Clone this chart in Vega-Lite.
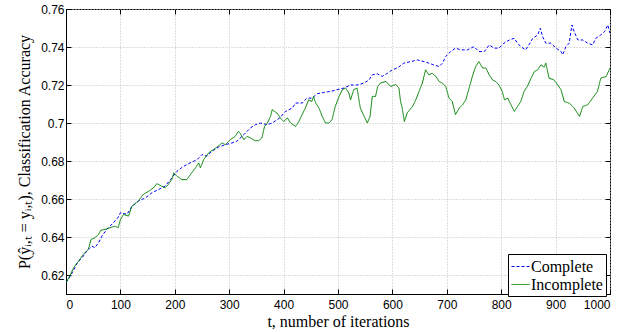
{
  "$schema": "https://vega.github.io/schema/vega-lite/v6.json",
  "width": 544,
  "height": 285,
  "autosize": {"type": "none"},
  "padding": {"left": 66, "top": 9, "right": 34, "bottom": 38},
  "background": "white",
  "config": {
    "view": {"stroke": "black", "strokeWidth": 1},
    "axis": {
      "labelFont": "Liberation Sans",
      "labelFontSize": 12,
      "labelColor": "black",
      "titleFont": "Liberation Serif",
      "titleFontSize": 16,
      "titleFontWeight": "normal",
      "titleColor": "black",
      "domainColor": "black",
      "tickColor": "black",
      "tickSize": -5,
      "gridColor": "#bdbdbd",
      "gridDash": [1, 2],
      "gridWidth": 1
    },
    "legend": {
      "labelFont": "Liberation Serif"
    }
  },
  "datasets": {
    "acc": [
      {"t": 0, "acc": 0.616, "series": "Complete"},
      {"t": 5, "acc": 0.618, "series": "Complete"},
      {"t": 13, "acc": 0.622, "series": "Complete"},
      {"t": 20, "acc": 0.626, "series": "Complete"},
      {"t": 26, "acc": 0.628, "series": "Complete"},
      {"t": 32, "acc": 0.630, "series": "Complete"},
      {"t": 38, "acc": 0.6326, "series": "Complete"},
      {"t": 47, "acc": 0.6352, "series": "Complete"},
      {"t": 53, "acc": 0.6344, "series": "Complete"},
      {"t": 60, "acc": 0.637, "series": "Complete"},
      {"t": 66, "acc": 0.6405, "series": "Complete"},
      {"t": 75, "acc": 0.644, "series": "Complete"},
      {"t": 87, "acc": 0.6475, "series": "Complete"},
      {"t": 95, "acc": 0.650, "series": "Complete"},
      {"t": 100, "acc": 0.6528, "series": "Complete"},
      {"t": 112, "acc": 0.6519, "series": "Complete"},
      {"t": 121, "acc": 0.656, "series": "Complete"},
      {"t": 133, "acc": 0.6589, "series": "Complete"},
      {"t": 146, "acc": 0.6606, "series": "Complete"},
      {"t": 158, "acc": 0.6633, "series": "Complete"},
      {"t": 170, "acc": 0.665, "series": "Complete"},
      {"t": 182, "acc": 0.6667, "series": "Complete"},
      {"t": 192, "acc": 0.6702, "series": "Complete"},
      {"t": 204, "acc": 0.6746, "series": "Complete"},
      {"t": 216, "acc": 0.6772, "series": "Complete"},
      {"t": 228, "acc": 0.679, "series": "Complete"},
      {"t": 241, "acc": 0.6807, "series": "Complete"},
      {"t": 250, "acc": 0.6834, "series": "Complete"},
      {"t": 259, "acc": 0.6825, "series": "Complete"},
      {"t": 268, "acc": 0.6851, "series": "Complete"},
      {"t": 281, "acc": 0.6874, "series": "Complete"},
      {"t": 293, "acc": 0.6886, "series": "Complete"},
      {"t": 305, "acc": 0.6895, "series": "Complete"},
      {"t": 314, "acc": 0.6904, "series": "Complete"},
      {"t": 327, "acc": 0.6939, "series": "Complete"},
      {"t": 339, "acc": 0.6974, "series": "Complete"},
      {"t": 348, "acc": 0.6991, "series": "Complete"},
      {"t": 357, "acc": 0.700, "series": "Complete"},
      {"t": 370, "acc": 0.6991, "series": "Complete"},
      {"t": 379, "acc": 0.700, "series": "Complete"},
      {"t": 388, "acc": 0.7017, "series": "Complete"},
      {"t": 394, "acc": 0.703, "series": "Complete"},
      {"t": 403, "acc": 0.706, "series": "Complete"},
      {"t": 416, "acc": 0.7079, "series": "Complete"},
      {"t": 422, "acc": 0.7105, "series": "Complete"},
      {"t": 434, "acc": 0.7105, "series": "Complete"},
      {"t": 443, "acc": 0.7131, "series": "Complete"},
      {"t": 452, "acc": 0.7131, "series": "Complete"},
      {"t": 462, "acc": 0.7154, "series": "Complete"},
      {"t": 474, "acc": 0.7161, "series": "Complete"},
      {"t": 486, "acc": 0.7166, "series": "Complete"},
      {"t": 498, "acc": 0.7175, "series": "Complete"},
      {"t": 511, "acc": 0.7184, "series": "Complete"},
      {"t": 523, "acc": 0.720, "series": "Complete"},
      {"t": 535, "acc": 0.720, "series": "Complete"},
      {"t": 548, "acc": 0.721, "series": "Complete"},
      {"t": 557, "acc": 0.7227, "series": "Complete"},
      {"t": 563, "acc": 0.7253, "series": "Complete"},
      {"t": 572, "acc": 0.7259, "series": "Complete"},
      {"t": 581, "acc": 0.7245, "series": "Complete"},
      {"t": 591, "acc": 0.7262, "series": "Complete"},
      {"t": 600, "acc": 0.728, "series": "Complete"},
      {"t": 610, "acc": 0.7291, "series": "Complete"},
      {"t": 621, "acc": 0.7315, "series": "Complete"},
      {"t": 634, "acc": 0.7323, "series": "Complete"},
      {"t": 646, "acc": 0.7332, "series": "Complete"},
      {"t": 658, "acc": 0.7323, "series": "Complete"},
      {"t": 667, "acc": 0.7315, "series": "Complete"},
      {"t": 676, "acc": 0.7306, "series": "Complete"},
      {"t": 686, "acc": 0.7297, "series": "Complete"},
      {"t": 692, "acc": 0.7315, "series": "Complete"},
      {"t": 698, "acc": 0.735, "series": "Complete"},
      {"t": 707, "acc": 0.7376, "series": "Complete"},
      {"t": 716, "acc": 0.7394, "series": "Complete"},
      {"t": 726, "acc": 0.7385, "series": "Complete"},
      {"t": 738, "acc": 0.7385, "series": "Complete"},
      {"t": 750, "acc": 0.7402, "series": "Complete"},
      {"t": 759, "acc": 0.7376, "series": "Complete"},
      {"t": 769, "acc": 0.7376, "series": "Complete"},
      {"t": 778, "acc": 0.7411, "series": "Complete"},
      {"t": 787, "acc": 0.7394, "series": "Complete"},
      {"t": 796, "acc": 0.7394, "series": "Complete"},
      {"t": 805, "acc": 0.742, "series": "Complete"},
      {"t": 815, "acc": 0.7437, "series": "Complete"},
      {"t": 824, "acc": 0.7446, "series": "Complete"},
      {"t": 830, "acc": 0.742, "series": "Complete"},
      {"t": 836, "acc": 0.7402, "series": "Complete"},
      {"t": 845, "acc": 0.7385, "series": "Complete"},
      {"t": 851, "acc": 0.7411, "series": "Complete"},
      {"t": 858, "acc": 0.7446, "series": "Complete"},
      {"t": 867, "acc": 0.7463, "series": "Complete"},
      {"t": 872, "acc": 0.7499, "series": "Complete"},
      {"t": 876, "acc": 0.7455, "series": "Complete"},
      {"t": 882, "acc": 0.742, "series": "Complete"},
      {"t": 891, "acc": 0.742, "series": "Complete"},
      {"t": 901, "acc": 0.7394, "series": "Complete"},
      {"t": 910, "acc": 0.7376, "series": "Complete"},
      {"t": 913, "acc": 0.7359, "series": "Complete"},
      {"t": 919, "acc": 0.7402, "series": "Complete"},
      {"t": 925, "acc": 0.742, "series": "Complete"},
      {"t": 930, "acc": 0.7516, "series": "Complete"},
      {"t": 934, "acc": 0.7481, "series": "Complete"},
      {"t": 941, "acc": 0.7437, "series": "Complete"},
      {"t": 950, "acc": 0.7437, "series": "Complete"},
      {"t": 959, "acc": 0.742, "series": "Complete"},
      {"t": 968, "acc": 0.7411, "series": "Complete"},
      {"t": 974, "acc": 0.7446, "series": "Complete"},
      {"t": 983, "acc": 0.7463, "series": "Complete"},
      {"t": 990, "acc": 0.7481, "series": "Complete"},
      {"t": 996, "acc": 0.7516, "series": "Complete"},
      {"t": 1000, "acc": 0.7472, "series": "Complete"},
      {"t": 0, "acc": 0.616, "series": "Incomplete"},
      {"t": 7, "acc": 0.6195, "series": "Incomplete"},
      {"t": 14, "acc": 0.6239, "series": "Incomplete"},
      {"t": 23, "acc": 0.6273, "series": "Incomplete"},
      {"t": 32, "acc": 0.6309, "series": "Incomplete"},
      {"t": 41, "acc": 0.6335, "series": "Incomplete"},
      {"t": 46, "acc": 0.6387, "series": "Incomplete"},
      {"t": 53, "acc": 0.6396, "series": "Incomplete"},
      {"t": 60, "acc": 0.6414, "series": "Incomplete"},
      {"t": 64, "acc": 0.6436, "series": "Incomplete"},
      {"t": 72, "acc": 0.644, "series": "Incomplete"},
      {"t": 81, "acc": 0.6449, "series": "Incomplete"},
      {"t": 90, "acc": 0.6457, "series": "Incomplete"},
      {"t": 96, "acc": 0.6449, "series": "Incomplete"},
      {"t": 100, "acc": 0.6492, "series": "Incomplete"},
      {"t": 106, "acc": 0.6519, "series": "Incomplete"},
      {"t": 115, "acc": 0.651, "series": "Incomplete"},
      {"t": 121, "acc": 0.6562, "series": "Incomplete"},
      {"t": 133, "acc": 0.6589, "series": "Incomplete"},
      {"t": 142, "acc": 0.6624, "series": "Incomplete"},
      {"t": 152, "acc": 0.6641, "series": "Incomplete"},
      {"t": 161, "acc": 0.6659, "series": "Incomplete"},
      {"t": 167, "acc": 0.6681, "series": "Incomplete"},
      {"t": 176, "acc": 0.6667, "series": "Incomplete"},
      {"t": 182, "acc": 0.6659, "series": "Incomplete"},
      {"t": 188, "acc": 0.6676, "series": "Incomplete"},
      {"t": 195, "acc": 0.6705, "series": "Incomplete"},
      {"t": 198, "acc": 0.6738, "series": "Incomplete"},
      {"t": 204, "acc": 0.672, "series": "Incomplete"},
      {"t": 213, "acc": 0.6702, "series": "Incomplete"},
      {"t": 222, "acc": 0.6702, "series": "Incomplete"},
      {"t": 231, "acc": 0.6738, "series": "Incomplete"},
      {"t": 238, "acc": 0.6764, "series": "Incomplete"},
      {"t": 244, "acc": 0.679, "series": "Incomplete"},
      {"t": 247, "acc": 0.6764, "series": "Incomplete"},
      {"t": 253, "acc": 0.6807, "series": "Incomplete"},
      {"t": 262, "acc": 0.6843, "series": "Incomplete"},
      {"t": 271, "acc": 0.686, "series": "Incomplete"},
      {"t": 281, "acc": 0.6881, "series": "Incomplete"},
      {"t": 287, "acc": 0.6895, "series": "Incomplete"},
      {"t": 293, "acc": 0.6886, "series": "Incomplete"},
      {"t": 302, "acc": 0.6912, "series": "Incomplete"},
      {"t": 311, "acc": 0.693, "series": "Incomplete"},
      {"t": 317, "acc": 0.6956, "series": "Incomplete"},
      {"t": 320, "acc": 0.6947, "series": "Incomplete"},
      {"t": 327, "acc": 0.6912, "series": "Incomplete"},
      {"t": 333, "acc": 0.693, "series": "Incomplete"},
      {"t": 339, "acc": 0.6921, "series": "Incomplete"},
      {"t": 348, "acc": 0.6907, "series": "Incomplete"},
      {"t": 354, "acc": 0.6907, "series": "Incomplete"},
      {"t": 360, "acc": 0.6921, "series": "Incomplete"},
      {"t": 365, "acc": 0.6982, "series": "Incomplete"},
      {"t": 370, "acc": 0.700, "series": "Incomplete"},
      {"t": 376, "acc": 0.7035, "series": "Incomplete"},
      {"t": 379, "acc": 0.707, "series": "Incomplete"},
      {"t": 388, "acc": 0.7052, "series": "Incomplete"},
      {"t": 394, "acc": 0.7026, "series": "Incomplete"},
      {"t": 400, "acc": 0.7008, "series": "Incomplete"},
      {"t": 407, "acc": 0.7026, "series": "Incomplete"},
      {"t": 413, "acc": 0.700, "series": "Incomplete"},
      {"t": 422, "acc": 0.6982, "series": "Incomplete"},
      {"t": 428, "acc": 0.7008, "series": "Incomplete"},
      {"t": 434, "acc": 0.7044, "series": "Incomplete"},
      {"t": 440, "acc": 0.7079, "series": "Incomplete"},
      {"t": 446, "acc": 0.7122, "series": "Incomplete"},
      {"t": 452, "acc": 0.7113, "series": "Incomplete"},
      {"t": 455, "acc": 0.714, "series": "Incomplete"},
      {"t": 459, "acc": 0.7105, "series": "Incomplete"},
      {"t": 465, "acc": 0.7079, "series": "Incomplete"},
      {"t": 471, "acc": 0.7035, "series": "Incomplete"},
      {"t": 477, "acc": 0.700, "series": "Incomplete"},
      {"t": 483, "acc": 0.700, "series": "Incomplete"},
      {"t": 489, "acc": 0.7017, "series": "Incomplete"},
      {"t": 495, "acc": 0.7087, "series": "Incomplete"},
      {"t": 502, "acc": 0.714, "series": "Incomplete"},
      {"t": 508, "acc": 0.7175, "series": "Incomplete"},
      {"t": 514, "acc": 0.7184, "series": "Incomplete"},
      {"t": 520, "acc": 0.7158, "series": "Incomplete"},
      {"t": 523, "acc": 0.7122, "series": "Incomplete"},
      {"t": 529, "acc": 0.7175, "series": "Incomplete"},
      {"t": 535, "acc": 0.7184, "series": "Incomplete"},
      {"t": 541, "acc": 0.7079, "series": "Incomplete"},
      {"t": 548, "acc": 0.7035, "series": "Incomplete"},
      {"t": 554, "acc": 0.700, "series": "Incomplete"},
      {"t": 559, "acc": 0.7035, "series": "Incomplete"},
      {"t": 563, "acc": 0.714, "series": "Incomplete"},
      {"t": 569, "acc": 0.714, "series": "Incomplete"},
      {"t": 573, "acc": 0.7192, "series": "Incomplete"},
      {"t": 578, "acc": 0.721, "series": "Incomplete"},
      {"t": 588, "acc": 0.7219, "series": "Incomplete"},
      {"t": 597, "acc": 0.7192, "series": "Incomplete"},
      {"t": 606, "acc": 0.7203, "series": "Incomplete"},
      {"t": 612, "acc": 0.7184, "series": "Incomplete"},
      {"t": 615, "acc": 0.7113, "series": "Incomplete"},
      {"t": 618, "acc": 0.7079, "series": "Incomplete"},
      {"t": 622, "acc": 0.7008, "series": "Incomplete"},
      {"t": 627, "acc": 0.7052, "series": "Incomplete"},
      {"t": 632, "acc": 0.707, "series": "Incomplete"},
      {"t": 637, "acc": 0.7087, "series": "Incomplete"},
      {"t": 643, "acc": 0.7122, "series": "Incomplete"},
      {"t": 649, "acc": 0.7166, "series": "Incomplete"},
      {"t": 655, "acc": 0.721, "series": "Incomplete"},
      {"t": 661, "acc": 0.728, "series": "Incomplete"},
      {"t": 667, "acc": 0.7253, "series": "Incomplete"},
      {"t": 673, "acc": 0.7262, "series": "Incomplete"},
      {"t": 680, "acc": 0.7245, "series": "Incomplete"},
      {"t": 686, "acc": 0.7218, "series": "Incomplete"},
      {"t": 692, "acc": 0.721, "series": "Incomplete"},
      {"t": 698, "acc": 0.7192, "series": "Incomplete"},
      {"t": 704, "acc": 0.7131, "series": "Incomplete"},
      {"t": 710, "acc": 0.7113, "series": "Incomplete"},
      {"t": 716, "acc": 0.7044, "series": "Incomplete"},
      {"t": 723, "acc": 0.7079, "series": "Incomplete"},
      {"t": 729, "acc": 0.7096, "series": "Incomplete"},
      {"t": 735, "acc": 0.7122, "series": "Incomplete"},
      {"t": 741, "acc": 0.7184, "series": "Incomplete"},
      {"t": 747, "acc": 0.7245, "series": "Incomplete"},
      {"t": 753, "acc": 0.7297, "series": "Incomplete"},
      {"t": 759, "acc": 0.7323, "series": "Incomplete"},
      {"t": 766, "acc": 0.7289, "series": "Incomplete"},
      {"t": 772, "acc": 0.7289, "series": "Incomplete"},
      {"t": 778, "acc": 0.7253, "series": "Incomplete"},
      {"t": 784, "acc": 0.7227, "series": "Incomplete"},
      {"t": 790, "acc": 0.7218, "series": "Incomplete"},
      {"t": 796, "acc": 0.720, "series": "Incomplete"},
      {"t": 802, "acc": 0.7166, "series": "Incomplete"},
      {"t": 806, "acc": 0.7122, "series": "Incomplete"},
      {"t": 812, "acc": 0.7131, "series": "Incomplete"},
      {"t": 818, "acc": 0.7096, "series": "Incomplete"},
      {"t": 824, "acc": 0.7061, "series": "Incomplete"},
      {"t": 830, "acc": 0.7087, "series": "Incomplete"},
      {"t": 836, "acc": 0.7113, "series": "Incomplete"},
      {"t": 842, "acc": 0.7166, "series": "Incomplete"},
      {"t": 848, "acc": 0.7192, "series": "Incomplete"},
      {"t": 855, "acc": 0.7236, "series": "Incomplete"},
      {"t": 861, "acc": 0.7271, "series": "Incomplete"},
      {"t": 867, "acc": 0.728, "series": "Incomplete"},
      {"t": 873, "acc": 0.7306, "series": "Incomplete"},
      {"t": 879, "acc": 0.7294, "series": "Incomplete"},
      {"t": 882, "acc": 0.7315, "series": "Incomplete"},
      {"t": 888, "acc": 0.7236, "series": "Incomplete"},
      {"t": 897, "acc": 0.7227, "series": "Incomplete"},
      {"t": 904, "acc": 0.720, "series": "Incomplete"},
      {"t": 910, "acc": 0.7175, "series": "Incomplete"},
      {"t": 916, "acc": 0.7113, "series": "Incomplete"},
      {"t": 925, "acc": 0.7105, "series": "Incomplete"},
      {"t": 934, "acc": 0.7079, "series": "Incomplete"},
      {"t": 944, "acc": 0.7035, "series": "Incomplete"},
      {"t": 950, "acc": 0.7087, "series": "Incomplete"},
      {"t": 959, "acc": 0.7096, "series": "Incomplete"},
      {"t": 968, "acc": 0.7131, "series": "Incomplete"},
      {"t": 977, "acc": 0.7166, "series": "Incomplete"},
      {"t": 983, "acc": 0.7236, "series": "Incomplete"},
      {"t": 993, "acc": 0.7245, "series": "Incomplete"},
      {"t": 1000, "acc": 0.7289, "series": "Incomplete"}
    ]
  },
  "data": {"name": "acc"},
  "resolve": {"axis": {"x": "independent", "y": "independent"}},
  "layer": [
    {
      "mark": {"type": "line", "strokeWidth": 1, "clip": true},
      "encoding": {
        "x": {
          "field": "t",
          "type": "quantitative",
          "scale": {"domain": [0, 1000], "nice": false},
          "axis": {
            "orient": "bottom",
            "values": [0, 100, 200, 300, 400, 500, 600, 700, 800, 900, 1000],
            "format": "d",
            "grid": true,
            "labelPadding": 10,
            "title": "t, number of iterations",
            "titleFont": "Liberation Serif",
            "titleFontSize": 16,
            "titleFontWeight": "normal",
            "titlePadding": 3
          }
        },
        "y": {
          "field": "acc",
          "type": "quantitative",
          "scale": {"domain": [0.61, 0.76], "nice": false, "zero": false},
          "axis": {
            "orient": "left",
            "values": [0.62, 0.64, 0.66, 0.68, 0.7, 0.72, 0.74, 0.76],
            "format": ".2~f",
            "grid": true,
            "labelPadding": 7,
            "title": "P(ŷᵢ,ₜ = yᵢ,ₜ), Classification Accuracy",
            "titleFont": "Liberation Serif",
            "titleFontSize": 16,
            "titleFontWeight": "normal",
            "titlePadding": 8
          }
        },
        "color": {
          "field": "series",
          "type": "nominal",
          "scale": {"domain": ["Complete", "Incomplete"], "range": ["#0000ff", "#008000"]},
          "legend": {
            "title": null,
            "orient": "none",
            "legendX": 442,
            "legendY": 245,
            "strokeColor": "black",
            "fillColor": "white",
            "padding": 3,
            "symbolType": "stroke",
            "symbolSize": 324,
            "symbolStrokeWidth": 1,
            "labelFont": "Liberation Serif",
            "labelFontSize": 16,
            "labelColor": "black",
            "labelOffset": 1,
            "rowPadding": 0
          }
        },
        "strokeDash": {
          "field": "series",
          "type": "nominal",
          "scale": {"domain": ["Complete", "Incomplete"], "range": [[3, 2], [1, 0]]},
          "legend": {
            "title": null,
            "orient": "none",
            "legendX": 442,
            "legendY": 245,
            "strokeColor": "black",
            "fillColor": "white",
            "padding": 3,
            "symbolType": "stroke",
            "symbolSize": 324,
            "symbolStrokeWidth": 1,
            "labelFont": "Liberation Serif",
            "labelFontSize": 16,
            "labelColor": "black",
            "labelOffset": 1,
            "rowPadding": 0
          }
        }
      }
    },
    {
      "mark": {"type": "line", "opacity": 0},
      "encoding": {
        "x": {
          "field": "t",
          "type": "quantitative",
          "axis": {
            "orient": "top",
            "values": [0, 100, 200, 300, 400, 500, 600, 700, 800, 900, 1000],
            "labels": false,
            "grid": false,
            "domain": false,
            "title": null
          }
        },
        "y": {
          "field": "acc",
          "type": "quantitative",
          "axis": {
            "orient": "right",
            "values": [0.62, 0.64, 0.66, 0.68, 0.7, 0.72, 0.74, 0.76],
            "labels": false,
            "grid": false,
            "domain": false,
            "title": null
          }
        }
      }
    }
  ]
}
